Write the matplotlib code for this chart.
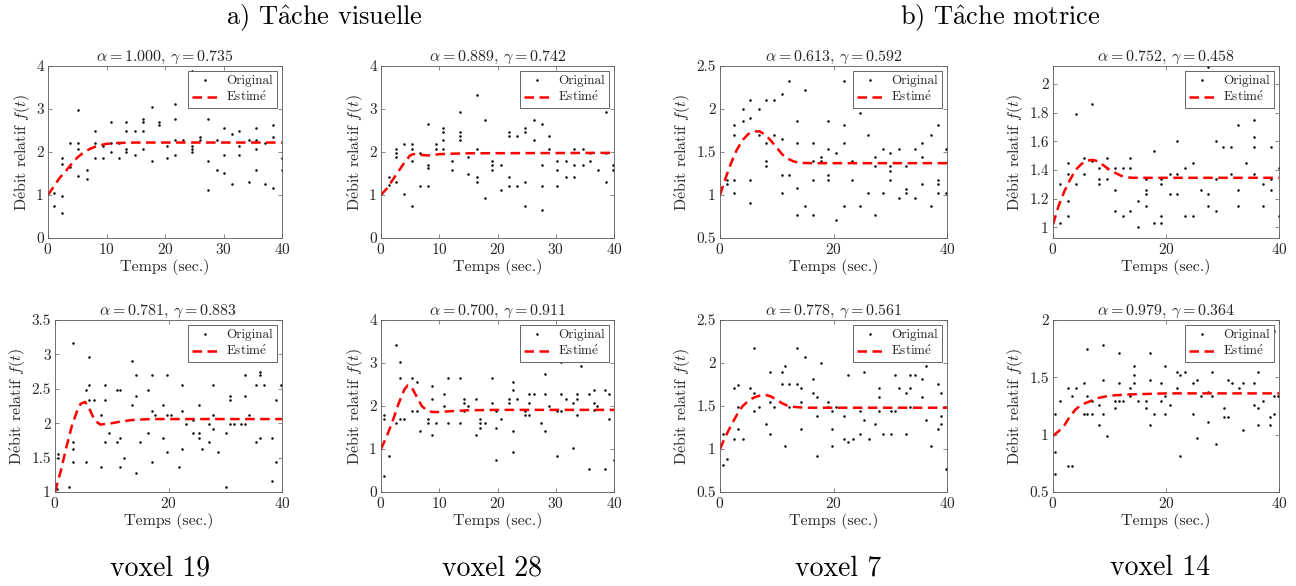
import matplotlib
matplotlib.use('Agg')
import matplotlib.pyplot as plt
from matplotlib.ticker import FormatStrFormatter

plt.rcParams['font.family'] = ['cmr10', 'DejaVu Serif']
plt.rcParams['mathtext.fontset'] = 'cm'
plt.rcParams['axes.formatter.use_mathtext'] = True

# points : (temps, [valeurs])
pts_v19a = [(1.1, [0.75, 1.05]), (2.4, [1.86, 1.73, 0.97, 0.57]), (3.8, [2.21, 1.65]),
            (5.1, [2.97, 2.21, 2.07, 1.45]), (6.6, [1.59, 1.37]), (8.0, [2.49, 2.21, 1.86]),
            (9.4, [2.14, 1.86]), (10.7, [2.70, 2.21, 2.0]), (12.1, [2.21, 1.86]),
            (13.4, [2.70, 2.49, 2.07, 2.0]), (14.9, [2.49, 1.92]), (16.2, [2.76, 2.70, 2.49, 2.07]),
            (17.7, [3.04, 1.80]), (19.0, [2.70, 2.62]), (20.3, [2.14, 1.86]),
            (21.7, [3.11, 2.76, 2.29, 1.92]), (23.1, [2.29]), (24.6, [3.88, 2.14, 2.07, 2.0]),
            (26.0, [2.35, 2.29]), (27.4, [2.76, 1.80, 1.11]), (28.9, [2.29, 1.59]),
            (30.0, [2.56, 1.92, 1.51]), (31.4, [2.42, 1.26]), (32.7, [2.49, 2.14, 1.92]),
            (34.3, [2.29, 1.30]), (35.6, [2.56, 2.29, 2.07, 1.59]), (37.1, [2.21, 1.26]),
            (38.5, [2.62, 2.35, 1.17]), (40.0, [1.86, 1.59])]
pts_v28a = [(1.3, [1.41, 1.24]), (2.6, [2.08, 1.97, 1.89, 1.30]), (4.0, [2.18, 1.03]),
            (5.3, [2.18, 2.08, 1.79, 0.74]), (6.7, [1.98, 1.21]), (8.1, [2.66, 1.69, 1.62, 1.21]),
            (9.5, [2.18, 2.08]), (10.7, [2.55, 2.47, 2.28, 2.08]), (12.2, [1.79, 1.59]),
            (13.6, [2.94, 2.47, 2.38, 2.28]), (15.0, [1.89, 1.50]), (16.5, [3.32, 2.08, 1.41, 1.30]),
            (17.8, [2.74, 0.92]), (19.1, [1.79, 1.69, 1.59]), (20.6, [1.69, 1.11]),
            (22.0, [2.47, 2.38, 1.41, 1.21]), (23.3, [2.38, 1.21]), (24.7, [2.55, 2.47, 1.30, 0.74]),
            (26.2, [2.74, 2.28]), (27.6, [2.66, 1.69, 1.21, 0.64]), (28.9, [2.38, 2.08]),
            (30.3, [1.79, 1.59, 1.21]), (31.7, [1.79, 1.41]), (33.2, [2.08, 1.69, 1.41]),
            (34.6, [2.08, 1.69]), (35.9, [1.98, 1.79]), (37.3, [1.59]),
            (38.6, [2.94, 1.98, 1.30]), (39.9, [1.69, 1.59])]
pts_v7a = [(1.2, [1.17, 1.13]), (2.5, [1.81, 1.70, 1.17, 1.02]), (4.0, [2.0, 1.86]),
           (5.3, [2.11, 1.90, 1.17, 0.91]), (6.8, [2.0, 1.70]), (8.1, [2.11, 1.60, 1.39, 1.34]),
           (9.5, [2.11, 1.70]), (10.9, [2.17, 1.65, 1.23, 1.02]), (12.2, [2.32, 1.23]),
           (13.5, [1.86, 1.60, 1.08, 0.77]), (15.0, [2.22, 0.87]), (16.4, [1.60, 1.39, 1.17, 0.77]),
           (17.8, [1.44, 1.39]), (19.1, [1.86, 1.54, 1.23, 1.17]), (20.5, [1.49, 0.71]),
           (21.9, [2.32, 1.81, 1.60, 0.87]), (23.2, [1.39, 1.17]), (24.6, [2.11, 1.95, 0.87]),
           (26.0, [1.70, 1.02]), (27.4, [2.07, 1.44, 1.34, 0.77]), (28.8, [1.54, 1.02]),
           (30.0, [1.49, 1.34, 1.28, 1.17]), (31.5, [1.54, 0.96]), (32.8, [1.34, 1.07, 1.02]),
           (34.3, [1.54, 0.96]), (35.6, [1.60, 1.44, 1.13]), (37.1, [1.70, 0.87]),
           (38.4, [1.81, 1.17, 1.13, 1.02]), (39.9, [1.54, 1.02])]
pts_v14a = [(1.2, [1.30, 1.03]), (2.6, [1.45, 1.37, 1.18, 1.08]), (4.1, [1.79, 1.30]),
            (5.4, [1.48, 1.37]), (6.9, [1.86, 1.46]), (8.2, [1.41, 1.34, 1.30]),
            (9.5, [1.48, 1.41, 1.34]), (10.9, [1.41, 1.26, 1.11]), (12.4, [1.41, 1.08]),
            (13.6, [1.48, 1.41, 1.11]), (15.1, [1.18, 1.0]), (16.5, [1.34, 1.26, 1.23, 1.15]),
            (17.9, [1.53, 1.03]), (19.2, [1.34, 1.30, 1.08, 1.03]), (20.7, [1.37, 1.23]),
            (22.0, [1.60, 1.37, 1.23]), (23.4, [1.41, 1.08]), (24.7, [2.05, 1.45, 1.08]),
            (26.2, [1.26]), (27.5, [2.12, 1.23, 1.15]), (28.8, [1.60, 1.34, 1.11]),
            (30.0, [1.56]), (31.5, [1.56, 1.37]), (32.8, [1.86, 1.71, 1.26, 1.15]),
            (34.2, [1.45]), (35.5, [1.75, 1.63, 1.56, 1.37]), (37.2, [1.30, 1.15]),
            (38.5, [1.56, 1.34, 1.26]), (40.0, [1.41, 1.08])]
pts_v19b = [(0.3, [1.05]), (0.5, [1.55, 1.49]), (2.5, [1.07]), (3.2, [3.17, 1.72, 1.63, 1.43]),
            (5.4, [2.48, 1.43]), (6.0, [2.96, 2.55, 2.33]), (6.8, [2.33]), (8.1, [2.12, 1.36]),
            (8.8, [2.55, 2.33, 1.72]), (9.5, [1.86]), (10.9, [2.48, 1.72]), (11.5, [2.48, 1.78, 1.36]),
            (12.2, [1.50]), (13.5, [2.90, 2.26]), (14.2, [2.70, 2.40, 1.28]), (15.0, [1.72]),
            (16.3, [2.48, 1.86]), (17.1, [2.70, 2.18, 1.43]), (17.6, [2.12]), (19.0, [2.26, 1.78]),
            (19.7, [2.70, 2.12, 1.58]), (20.4, [2.12]), (21.8, [1.36]), (22.4, [2.55, 2.18, 1.63]),
            (23.1, [1.99]), (24.4, [2.05, 1.86]), (25.3, [2.26, 1.86, 1.78]), (25.9, [1.63]),
            (27.2, [1.99, 1.72]), (27.9, [2.55, 2.12, 1.92]), (28.8, [1.58]), (30.1, [1.86, 1.07]),
            (30.8, [2.40, 2.33, 1.99]), (31.5, [1.99]), (32.8, [1.99]), (33.4, [2.70, 2.40, 1.99]),
            (34.1, [2.12]), (35.5, [2.55, 1.72]), (36.1, [2.75, 2.70, 1.78]), (36.9, [2.55]),
            (38.2, [1.78, 1.16]), (38.9, [2.33, 1.43]), (39.9, [2.55])]
pts_v28b = [(0.5, [0.37, 1.80]), (0.6, [1.69]), (1.3, [0.84]), (2.6, [3.42, 1.61]),
            (3.3, [3.03, 2.66, 1.69]), (4.0, [1.69]), (5.3, [2.66, 1.88]), (6.1, [2.55, 1.88]),
            (6.7, [1.41]), (8.1, [1.69, 1.61]), (8.7, [2.47, 2.17, 1.32]), (9.5, [1.61]),
            (10.9, [2.28, 2.0]), (11.5, [2.66, 1.61]), (13.6, [2.66, 1.61]), (14.3, [2.17, 2.08, 1.88]),
            (15.0, [2.0]), (16.3, [2.17, 1.32]), (17.0, [1.69, 1.61, 1.50]), (17.8, [1.61]),
            (19.1, [2.66, 2.08]), (19.8, [1.88, 1.50, 0.74]), (20.6, [1.69]), (21.9, [2.17, 2.08]),
            (22.6, [2.55, 2.38, 1.41, 0.93]), (23.3, [2.17]), (24.7, [1.88, 1.80]),
            (25.4, [2.28, 2.08, 1.80]), (26.2, [2.28]), (27.4, [1.61]), (28.2, [2.75, 2.28, 1.41]),
            (28.9, [2.0]), (30.3, [1.88, 0.84]), (30.9, [3.03, 2.28, 1.88]), (31.7, [2.17]),
            (33.0, [2.08, 1.03]), (33.7, [2.28, 2.17, 1.80]), (34.3, [2.94]), (35.7, [2.28, 0.54]),
            (36.5, [2.38, 2.08, 1.90]), (37.1, [2.0]), (38.5, [2.37, 0.54]), (39.2, [2.28, 1.69]),
            (40.0, [0.74])]
pts_v7b = [(0.5, [0.81, 1.18]), (1.3, [0.88]), (2.5, [1.71, 1.12]), (3.2, [1.75, 1.49, 1.23]),
           (4.0, [1.12]), (5.3, [1.71]), (6.0, [2.18, 1.65, 1.44]), (6.8, [1.49]), (8.1, [1.29]),
           (8.8, [1.90, 1.55, 1.18]), (9.5, [1.49]), (10.9, [1.90, 1.76]), (11.5, [1.96, 1.03]),
           (12.2, [1.76, 1.49]), (13.5, [2.17, 1.76]), (14.2, [1.71, 1.55, 1.23]), (15.0, [2.07]),
           (16.4, [1.81, 1.65]), (17.1, [1.60, 1.38, 0.92]), (17.8, [2.0]), (19.1, [1.55, 1.49]),
           (19.8, [1.44, 1.23, 1.03]), (20.5, [1.49]), (21.9, [1.38, 1.12]), (22.6, [1.86, 1.08]),
           (23.4, [1.12]), (24.6, [1.44, 1.18]), (25.3, [1.90, 1.34]), (26.2, [1.12]),
           (27.4, [1.29]), (28.1, [1.71, 1.60, 1.44]), (28.8, [1.18]), (30.2, [1.44, 1.18]),
           (30.9, [1.86, 1.44]), (31.6, [1.71]), (32.8, [1.65, 1.18]), (33.5, [1.86, 1.71, 1.49]),
           (34.3, [1.86]), (35.6, [1.81, 1.60]), (36.3, [1.96, 1.34]), (37.1, [1.03]),
           (38.4, [1.76, 1.23]), (39.0, [1.65, 1.38, 1.29]), (39.9, [0.77])]
pts_v14b = [(0.4, [1.18, 0.85, 0.66]), (1.3, [1.29]), (2.6, [1.41, 0.73]), (3.4, [1.34, 0.73]),
            (4.1, [1.41]), (5.4, [1.45, 1.18]), (6.1, [1.75, 1.34, 1.18]), (6.9, [1.29, 1.18]),
            (8.2, [1.26, 1.08]), (8.8, [1.78, 1.48, 1.18]), (9.5, [0.99]), (11.0, [1.29, 1.23]),
            (11.6, [1.71, 1.45, 1.29]), (12.4, [1.29]), (13.6, [1.41, 1.34]), (14.4, [1.60, 1.52, 1.45]),
            (15.1, [1.29]), (16.5, [1.29, 1.23]), (17.1, [1.71, 1.48, 1.08]), (17.9, [1.18]),
            (19.2, [1.45, 1.29]), (19.8, [1.60, 1.34, 1.18]), (20.7, [1.26]), (22.0, [1.55, 1.41]),
            (22.5, [1.52, 0.81]), (23.4, [1.55]), (24.7, [1.45, 1.18]), (25.4, [1.71, 1.48, 0.97]),
            (26.2, [1.34]), (27.5, [1.37, 1.11]), (28.2, [1.55, 1.34]), (28.9, [0.92]),
            (30.2, [1.64, 1.23, 1.15]), (30.9, [1.48, 1.15]), (31.6, [1.45]), (32.9, [1.41]),
            (33.6, [1.45, 1.04]), (35.6, [1.45, 1.26]), (36.3, [1.55, 1.23, 1.08]), (37.1, [1.29]),
            (38.4, [1.15, 1.08]), (39.1, [1.90, 1.34, 1.18]), (39.8, [1.34])]

# courbes estimées (temps, valeur)
fit_v19a = [(0, 1.0), (1, 1.2), (2, 1.4), (3, 1.55), (4, 1.72), (5, 1.87), (6, 1.98), (7, 2.06),
            (8, 2.12), (9, 2.16), (10, 2.19), (11, 2.2), (12, 2.21), (15, 2.22), (40, 2.22)]
fit_v28a = [(0, 1.0), (1, 1.15), (2, 1.35), (3, 1.55), (4, 1.75), (5, 1.92), (5.5, 1.95), (6, 1.95),
            (7, 1.93), (8, 1.92), (9, 1.93), (10, 1.95), (12, 1.96), (15, 1.97), (40, 1.98)]
fit_v7a = [(0, 1.0), (1, 1.2), (2, 1.38), (3, 1.53), (4, 1.64), (5, 1.71), (6, 1.74), (7, 1.74),
           (8, 1.70), (9, 1.63), (10, 1.55), (11, 1.47), (12, 1.42), (13, 1.39), (14, 1.375),
           (16, 1.37), (40, 1.37)]
fit_v14a = [(0, 1.02), (1, 1.15), (2, 1.25), (3, 1.33), (4, 1.40), (5, 1.44), (6, 1.465), (7, 1.47),
            (8, 1.46), (9, 1.43), (10, 1.40), (11, 1.38), (12, 1.36), (13, 1.35), (14, 1.345),
            (40, 1.345)]
fit_v19b = [(0, 1.0), (0.5, 1.15), (1, 1.3), (2, 1.65), (3, 1.97), (4, 2.2), (4.5, 2.28), (5.3, 2.31),
            (6, 2.22), (7, 2.04), (8, 1.98), (9, 1.99), (10, 2.0), (12, 2.03), (14, 2.05), (17, 2.06),
            (40, 2.06)]
fit_v28b = [(0, 1.0), (1, 1.3), (2, 1.65), (3, 2.05), (4, 2.38), (4.6, 2.48), (5.2, 2.45), (6, 2.25),
            (7, 2.0), (8, 1.88), (9, 1.86), (10, 1.86), (12, 1.88), (15, 1.9), (20, 1.91), (40, 1.91)]
fit_v7b = [(0, 1.0), (1, 1.15), (2, 1.28), (3, 1.4), (4, 1.5), (5, 1.56), (6, 1.6), (7, 1.62),
           (8, 1.63), (9, 1.61), (10, 1.57), (11, 1.53), (12, 1.5), (13, 1.49), (15, 1.48), (40, 1.48)]
fit_v14b = [(0, 0.99), (1, 1.03), (2, 1.08), (3, 1.16), (4, 1.22), (5, 1.26), (6, 1.28), (8, 1.32),
            (10, 1.34), (13, 1.35), (20, 1.36), (40, 1.36)]

alphas = [1.000, 0.889, 0.613, 0.752, 0.781, 0.700, 0.778, 0.979]
gammas = [0.735, 0.742, 0.592, 0.458, 0.883, 0.911, 0.561, 0.364]
voxels = ['voxel 19', 'voxel 28', 'voxel 7', 'voxel 14']
# accents rendus en mathtext pour garder la police Computer Modern
groupes = [r'a) T$\hat{\mathrm{a}}$che visuelle', r'b) T$\hat{\mathrm{a}}$che motrice']
lab_orig = 'Original'
lab_est = r'Estim$\acute{\mathrm{e}}$'
lab_x = 'Temps (sec.)'
lab_y = r'D$\acute{\mathrm{e}}$bit relatif $f(t)$'

all_pts = [pts_v19a, pts_v28a, pts_v7a, pts_v14a, pts_v19b, pts_v28b, pts_v7b, pts_v14b]
all_fits = [fit_v19a, fit_v28a, fit_v7a, fit_v14a, fit_v19b, fit_v28b, fit_v7b, fit_v14b]

# mise en page (pixels : gauche, haut, droite, bas)
W, H = 1296, 586
boxes = [(48, 66, 282, 238), (381, 66, 614, 238), (720, 66, 947, 238), (1053, 66, 1279, 238),
         (55, 320, 282, 492), (381, 320, 614, 492), (720, 320, 947, 492), (1053, 320, 1279, 492)]
ylims = [(0, 4), (0, 4), (0.5, 2.5), (0.925, 2.125), (1, 3.5), (0, 4), (0.5, 2.5), (0.5, 2)]
yticks = [[0, 1, 2, 3, 4], [0, 1, 2, 3, 4], [0.5, 1, 1.5, 2, 2.5], [1, 1.2, 1.4, 1.6, 1.8, 2],
          [1, 1.5, 2, 2.5, 3, 3.5], [0, 1, 2, 3, 4], [0.5, 1, 1.5, 2, 2.5], [0.5, 1, 1.5, 2]]
xticks = [[0, 10, 20, 30, 40], [0, 10, 20, 30, 40], [0, 20, 40], [0, 20, 40],
          [0, 20, 40], [0, 10, 20, 30, 40], [0, 20, 40], [0, 20, 40]]

fig = plt.figure(figsize=(12.96, 5.86), dpi=100)
axcol = '0.35'
txtcol = '0.15'

for i in range(8):
    l, t, r, b = boxes[i]
    ax = fig.add_axes([l / W, 1 - b / H, (r - l) / W, (b - t) / H])
    xs = [p[0] for p in all_pts[i] for _ in p[1]]
    ys = [v for p in all_pts[i] for v in p[1]]
    ax.plot(xs, ys, '.', color='black', markersize=1.6, label=lab_orig)
    ax.plot([f[0] for f in all_fits[i]], [f[1] for f in all_fits[i]], '--', color='#ff0000',
            lw=1.8, dashes=(3.8, 2.2), label=lab_est)
    ax.set_xlim(0, 40)
    ax.set_ylim(*ylims[i])
    ax.set_xticks(xticks[i])
    ax.set_yticks(yticks[i])
    ax.yaxis.set_major_formatter(FormatStrFormatter('%g'))
    ax.tick_params(direction='in', top=True, right=True, length=3, width=0.5,
                   color=axcol, labelcolor=txtcol, labelsize=11, pad=3)
    for s in ax.spines.values():
        s.set_color(axcol)
        s.set_linewidth(0.6)
    ax.set_title(r'$\alpha = %.3f,\, \gamma = %.3f$' % (alphas[i], gammas[i]),
                 fontsize=11.5, color=txtcol, pad=4)
    ax.set_xlabel(lab_x, fontsize=11.5, color=txtcol, labelpad=1)
    ax.set_ylabel(lab_y, fontsize=11.5, color=txtcol, labelpad=3)
    leg = ax.legend(loc='upper right', fontsize=9.5, frameon=True, fancybox=False, framealpha=1,
                    borderpad=0.3, handlelength=2.0, handletextpad=0.6, labelspacing=0.2,
                    borderaxespad=0.4, markerscale=1.0)
    leg.get_frame().set_edgecolor('0.3')
    leg.get_frame().set_linewidth(0.6)
    for tx in leg.get_texts():
        tx.set_color(txtcol)

fig.text(324 / W, 1 - 18 / H, groupes[0], ha='center', va='center', fontsize=19)
fig.text(1000 / W, 1 - 18 / H, groupes[1], ha='center', va='center', fontsize=19)
for j, x in enumerate([160, 492, 838, 1160]):
    fig.text(x / W, 1 - 568 / H, voxels[j], ha='center', va='center', fontsize=20)

fig.savefig('out.png', dpi=100)
